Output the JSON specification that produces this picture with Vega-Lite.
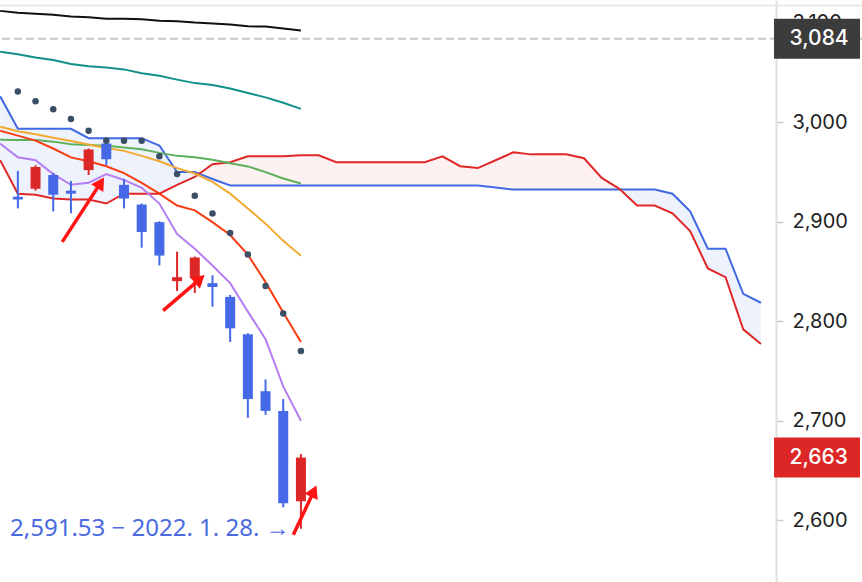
{
  "$schema": "https://vega.github.io/schema/vega-lite/v6.json",
  "width": 862,
  "height": 582,
  "autosize": {"type": "none"},
  "padding": 0,
  "background": "white",
  "config": {"view": {"stroke": null}, "font": "Roboto"},
  "datasets": {
    "candles": [
      {"i":0,"open":2925.2,"high":2950.9,"low":2913.4,"close":2922.3,"sar":3030.9},
      {"i":1,"open":2933.1,"high":2956.8,"low":2931.2,"close":2954.9,"sar":3021.0},
      {"i":2,"open":2947.0,"high":2948.9,"low":2910.4,"close":2927.2,"sar":3013.1},
      {"i":3,"open":2931.2,"high":2941.0,"low":2908.5,"close":2928.2,"sar":3003.3},
      {"i":4,"open":2951.9,"high":2973.6,"low":2947.0,"close":2972.6,"sar":2991.4},
      {"i":5,"open":2978.6,"high":2979.0,"low":2956.8,"close":2962.8,"sar":2981.5},
      {"i":6,"open":2937.1,"high":2943.0,"low":2913.4,"close":2923.3,"sar":2981.5},
      {"i":7,"open":2917.3,"high":2918.3,"low":2873.9,"close":2889.7,"sar":2981.5},
      {"i":8,"open":2899.6,"high":2900.5,"low":2856.1,"close":2866.0,"sar":2965.7},
      {"i":9,"open":2840.3,"high":2869.9,"low":2830.4,"close":2844.3,"sar":2947.9},
      {"i":10,"open":2843.3,"high":2865.0,"low":2828.4,"close":2864.0,"sar":2926.2},
      {"i":11,"open":2838.3,"high":2846.2,"low":2814.6,"close":2834.4,"sar":2908.4},
      {"i":12,"open":2824.5,"high":2826.5,"low":2779.1,"close":2792.9,"sar":2888.7},
      {"i":13,"open":2786.9,"high":2787.9,"low":2703.0,"close":2721.8,"sar":2867.0},
      {"i":14,"open":2729.7,"high":2741.5,"low":2706.0,"close":2709.9,"sar":2835.4},
      {"i":15,"open":2709.9,"high":2721.8,"low":2613.1,"close":2617.1,"sar":2807.7},
      {"i":16,"open":2619.1,"high":2666.5,"low":2591.53,"close":2663.0,"sar":2770.2}
    ],
    "ma": [
      {"i":-1,"black":3111.9,"teal":3070.9,"green":2982.5,"orange":2995.4,"ro":2991.4,"purple":2978.6},
      {"i":0,"black":3109.9,"teal":3068.4,"green":2982.2,"orange":2990.9,"ro":2986.5,"purple":2964.7},
      {"i":1,"black":3108.9,"teal":3065.0,"green":2982.2,"orange":2988.0,"ro":2981.5,"purple":2961.8},
      {"i":2,"black":3108.0,"teal":3062.5,"green":2980.5,"orange":2984.5,"ro":2973.6,"purple":2947.9},
      {"i":3,"black":3106.3,"teal":3058.6,"green":2977.9,"orange":2981.2,"ro":2964.7,"purple":2937.1},
      {"i":4,"black":3105.5,"teal":3056.3,"green":2977.1,"orange":2977.6,"ro":2960.8,"purple":2939.1},
      {"i":5,"black":3104.0,"teal":3055.1,"green":2976.3,"orange":2974.1,"ro":2955.8,"purple":2947.9},
      {"i":6,"black":3104.0,"teal":3053.1,"green":2974.6,"orange":2971.2,"ro":2948.9,"purple":2942.0},
      {"i":7,"black":3103.5,"teal":3049.2,"green":2972.8,"orange":2966.2,"ro":2939.1,"purple":2934.1},
      {"i":8,"black":3102.0,"teal":3046.7,"green":2969.2,"orange":2960.8,"ro":2928.2,"purple":2918.3},
      {"i":9,"black":3101.5,"teal":3042.8,"green":2966.2,"orange":2953.9,"ro":2916.3,"purple":2887.7},
      {"i":10,"black":3100.2,"teal":3039.3,"green":2964.7,"orange":2948.5,"ro":2911.4,"purple":2872.9},
      {"i":11,"black":3099.3,"teal":3037.3,"green":2962.3,"orange":2940.1,"ro":2899.6,"purple":2856.1},
      {"i":12,"black":3098.1,"teal":3033.9,"green":2958.8,"orange":2928.2,"ro":2886.7,"purple":2838.3},
      {"i":13,"black":3096.4,"teal":3029.4,"green":2955.6,"orange":2913.4,"ro":2866.9,"purple":2809.7},
      {"i":14,"black":3096.1,"teal":3025.0,"green":2949.9,"orange":2898.1,"ro":2839.3,"purple":2782.0},
      {"i":15,"black":3094.3,"teal":3019.6,"green":2943.5,"orange":2880.8,"ro":2808.7,"purple":2734.6},
      {"i":16,"black":3092.2,"teal":3013.4,"green":2938.4,"orange":2865.9,"ro":2779.1,"purple":2700.0}
    ],
    "span": [
      {"i":-1,"a":3026.0,"b":2961.8},{"i":0,"a":2993.4,"b":2928.2},{"i":1,"a":2993.4,"b":2927.2},
      {"i":2,"a":2993.4,"b":2923.3},{"i":3,"a":2993.4,"b":2922.3},{"i":4,"a":2984.0,"b":2922.3},
      {"i":5,"a":2984.0,"b":2918.3},{"i":6,"a":2984.0,"b":2928.2},{"i":7,"a":2984.0,"b":2928.2},
      {"i":8,"a":2976.6,"b":2928.2},{"i":9,"a":2949.9,"b":2937.1},{"i":10,"a":2949.9,"b":2945.0},
      {"i":11,"a":2943.0,"b":2957.8},{"i":12,"a":2936.5,"b":2959.8},{"i":13,"a":2936.5,"b":2965.7},
      {"i":14,"a":2936.5,"b":2965.7},{"i":15,"a":2936.5,"b":2965.7},{"i":16,"a":2936.5,"b":2966.7},
      {"i":17,"a":2936.5,"b":2966.7},{"i":18,"a":2936.5,"b":2959.8},{"i":19,"a":2936.5,"b":2959.8},
      {"i":20,"a":2936.5,"b":2959.8},{"i":21,"a":2936.5,"b":2959.8},{"i":22,"a":2936.5,"b":2959.8},
      {"i":23,"a":2936.5,"b":2959.8},{"i":24,"a":2936.5,"b":2965.7},{"i":25,"a":2936.5,"b":2955.8},
      {"i":26,"a":2936.5,"b":2953.9},{"i":27,"a":2934.4,"b":2961.8},{"i":28,"a":2932.4,"b":2969.7},
      {"i":29,"a":2932.4,"b":2967.7},{"i":30,"a":2932.4,"b":2967.7},{"i":31,"a":2932.4,"b":2967.7},
      {"i":32,"a":2932.4,"b":2963.8},{"i":33,"a":2932.4,"b":2944.0},{"i":34,"a":2932.4,"b":2933.1},
      {"i":35,"a":2932.4,"b":2916.3},{"i":36,"a":2932.4,"b":2916.3},{"i":37,"a":2928.2,"b":2908.4},
      {"i":38,"a":2910.4,"b":2890.7},{"i":39,"a":2872.9,"b":2853.1},{"i":40,"a":2872.9,"b":2844.3},
      {"i":41,"a":2827.5,"b":2791.9},{"i":42,"a":2818.6,"b":2777.1}
    ],
    "cloud": [
      {"seg":"s1","lead":"A","i":-1,"a":3026.0,"b":2961.8},{"seg":"s1","lead":"A","i":0,"a":2993.4,"b":2928.2},
      {"seg":"s1","lead":"A","i":1,"a":2993.4,"b":2927.2},{"seg":"s1","lead":"A","i":2,"a":2993.4,"b":2923.3},
      {"seg":"s1","lead":"A","i":3,"a":2993.4,"b":2922.3},{"seg":"s1","lead":"A","i":4,"a":2984.0,"b":2922.3},
      {"seg":"s1","lead":"A","i":5,"a":2984.0,"b":2918.3},{"seg":"s1","lead":"A","i":6,"a":2984.0,"b":2928.2},
      {"seg":"s1","lead":"A","i":7,"a":2984.0,"b":2928.2},{"seg":"s1","lead":"A","i":8,"a":2976.6,"b":2928.2},
      {"seg":"s1","lead":"A","i":9,"a":2949.9,"b":2937.1},{"seg":"s1","lead":"A","i":10,"a":2949.9,"b":2945.0},
      {"seg":"s1","lead":"A","i":10.25,"a":2948.2,"b":2948.2},
      {"seg":"s2","lead":"B","i":10.25,"a":2948.2,"b":2948.2},
      {"seg":"s2","lead":"B","i":11,"a":2943.0,"b":2957.8},{"seg":"s2","lead":"B","i":12,"a":2936.5,"b":2959.8},
      {"seg":"s2","lead":"B","i":13,"a":2936.5,"b":2965.7},{"seg":"s2","lead":"B","i":14,"a":2936.5,"b":2965.7},
      {"seg":"s2","lead":"B","i":15,"a":2936.5,"b":2965.7},{"seg":"s2","lead":"B","i":16,"a":2936.5,"b":2966.7},
      {"seg":"s2","lead":"B","i":17,"a":2936.5,"b":2966.7},{"seg":"s2","lead":"B","i":18,"a":2936.5,"b":2959.8},
      {"seg":"s2","lead":"B","i":19,"a":2936.5,"b":2959.8},{"seg":"s2","lead":"B","i":20,"a":2936.5,"b":2959.8},
      {"seg":"s2","lead":"B","i":21,"a":2936.5,"b":2959.8},{"seg":"s2","lead":"B","i":22,"a":2936.5,"b":2959.8},
      {"seg":"s2","lead":"B","i":23,"a":2936.5,"b":2959.8},{"seg":"s2","lead":"B","i":24,"a":2936.5,"b":2965.7},
      {"seg":"s2","lead":"B","i":25,"a":2936.5,"b":2955.8},{"seg":"s2","lead":"B","i":26,"a":2936.5,"b":2953.9},
      {"seg":"s2","lead":"B","i":27,"a":2934.4,"b":2961.8},{"seg":"s2","lead":"B","i":28,"a":2932.4,"b":2969.7},
      {"seg":"s2","lead":"B","i":29,"a":2932.4,"b":2967.7},{"seg":"s2","lead":"B","i":30,"a":2932.4,"b":2967.7},
      {"seg":"s2","lead":"B","i":31,"a":2932.4,"b":2967.7},{"seg":"s2","lead":"B","i":32,"a":2932.4,"b":2963.8},
      {"seg":"s2","lead":"B","i":33,"a":2932.4,"b":2944.0},{"seg":"s2","lead":"B","i":34,"a":2932.4,"b":2933.1},
      {"seg":"s2","lead":"B","i":34.04,"a":2932.4,"b":2932.4},
      {"seg":"s3","lead":"A","i":34.04,"a":2932.4,"b":2932.4},
      {"seg":"s3","lead":"A","i":35,"a":2932.4,"b":2916.3},{"seg":"s3","lead":"A","i":36,"a":2932.4,"b":2916.3},
      {"seg":"s3","lead":"A","i":37,"a":2928.2,"b":2908.4},{"seg":"s3","lead":"A","i":38,"a":2910.4,"b":2890.7},
      {"seg":"s3","lead":"A","i":39,"a":2872.9,"b":2853.1},{"seg":"s3","lead":"A","i":40,"a":2872.9,"b":2844.3},
      {"seg":"s3","lead":"A","i":41,"a":2827.5,"b":2791.9},{"seg":"s3","lead":"A","i":42,"a":2818.6,"b":2777.1}
    ],
    "arrows": [
      {"id":1,"i":2.51,"v":2879.8,"i2":4.68,"v2":2939.1},
      {"id":2,"i":8.21,"v":2810.7,"i2":10.29,"v2":2842.4},
      {"id":3,"i":15.57,"v":2585.5,"i2":16.73,"v2":2629.2}
    ],
    "notes": [
      {"i":15.36,"v":2591.53,"label":"2,591.53 − 2022. 1. 28. →"}
    ],
    "tags": [
      {"kind":"prev","price":3084,"label":"3,084"},
      {"kind":"close","price":2663,"label":"2,663"}
    ]
  },
  "layer": [
    {
      "data": {"name": "cloud"},
      "mark": {"type": "area", "clip": true, "opacity": 1},
      "encoding": {
        "x": {"field": "i", "type": "quantitative", "scale": {"domain": [-0.7263, 47.43], "nice": false, "zero": false}, "axis": null},
        "y": {"field": "a", "type": "quantitative", "stack": null, "scale": {"domain": [2543.0, 3117.8], "nice": false, "zero": false},
              "axis": {"orient": "right", "offset": -86, "values": [2600, 2700, 2800, 2900, 3000, 3100], "format": ",d",
                       "labelFont": "Inter", "labelFontSize": 20, "labelColor": "#222222", "tickColor": "#cccccc", "tickSize": 7,
                       "tickWidth": 1.5, "domainColor": "#e0e0e0", "domainWidth": 2, "labelPadding": 9, "grid": false,
                       "title": null, "labelBaseline": "middle", "labelAlign": "left", "labelFlush": false, "labelOverlap": false}},
        "y2": {"field": "b"},
        "color": {"field": "lead", "type": "nominal", "scale": {"domain": ["A", "B"], "range": ["#edf2fd", "#fdf1f1"]}, "legend": null},
        "detail": {"field": "seg"}
      }
    },
    {
      "data": {"name": "tags"},
      "transform": [{"filter": "datum.kind == 'prev'"}],
      "mark": {"type": "rule", "color": "#e4e4e4", "strokeWidth": 1.5},
      "encoding": {
        "y": {"datum": 3117.2, "type": "quantitative", "title": null, "scale": {"domain": [2543.0, 3117.8], "nice": false, "zero": false}}
      }
    },
    {
      "data": {"name": "span"},
      "mark": {"type": "line", "clip": true, "color": "#4169e1", "strokeWidth": 2},
      "encoding": {
        "x": {"field": "i", "type": "quantitative", "scale": {"domain": [-0.7263, 47.43], "nice": false, "zero": false}, "axis": null},
        "y": {"field": "a", "type": "quantitative", "title": null, "scale": {"domain": [2543.0, 3117.8], "nice": false, "zero": false}}
      }
    },
    {
      "data": {"name": "span"},
      "mark": {"type": "line", "clip": true, "color": "#e02828", "strokeWidth": 2},
      "encoding": {
        "x": {"field": "i", "type": "quantitative", "scale": {"domain": [-0.7263, 47.43], "nice": false, "zero": false}, "axis": null},
        "y": {"field": "b", "type": "quantitative", "title": null, "scale": {"domain": [2543.0, 3117.8], "nice": false, "zero": false}}
      }
    },
    {
      "data": {"name": "ma"},
      "mark": {"type": "line", "clip": true, "color": "#111111", "strokeWidth": 2},
      "encoding": {
        "x": {"field": "i", "type": "quantitative", "scale": {"domain": [-0.7263, 47.43], "nice": false, "zero": false}, "axis": null},
        "y": {"field": "black", "type": "quantitative", "title": null, "scale": {"domain": [2543.0, 3117.8], "nice": false, "zero": false}}
      }
    },
    {
      "data": {"name": "ma"},
      "mark": {"type": "line", "clip": true, "color": "#109088", "strokeWidth": 2},
      "encoding": {
        "x": {"field": "i", "type": "quantitative", "scale": {"domain": [-0.7263, 47.43], "nice": false, "zero": false}, "axis": null},
        "y": {"field": "teal", "type": "quantitative", "title": null, "scale": {"domain": [2543.0, 3117.8], "nice": false, "zero": false}}
      }
    },
    {
      "data": {"name": "ma"},
      "mark": {"type": "line", "clip": true, "color": "#5cb05c", "strokeWidth": 2},
      "encoding": {
        "x": {"field": "i", "type": "quantitative", "scale": {"domain": [-0.7263, 47.43], "nice": false, "zero": false}, "axis": null},
        "y": {"field": "green", "type": "quantitative", "title": null, "scale": {"domain": [2543.0, 3117.8], "nice": false, "zero": false}}
      }
    },
    {
      "data": {"name": "ma"},
      "mark": {"type": "line", "clip": true, "color": "#f0aa30", "strokeWidth": 2},
      "encoding": {
        "x": {"field": "i", "type": "quantitative", "scale": {"domain": [-0.7263, 47.43], "nice": false, "zero": false}, "axis": null},
        "y": {"field": "orange", "type": "quantitative", "title": null, "scale": {"domain": [2543.0, 3117.8], "nice": false, "zero": false}}
      }
    },
    {
      "data": {"name": "ma"},
      "mark": {"type": "line", "clip": true, "color": "#fa3c12", "strokeWidth": 2},
      "encoding": {
        "x": {"field": "i", "type": "quantitative", "scale": {"domain": [-0.7263, 47.43], "nice": false, "zero": false}, "axis": null},
        "y": {"field": "ro", "type": "quantitative", "title": null, "scale": {"domain": [2543.0, 3117.8], "nice": false, "zero": false}}
      }
    },
    {
      "data": {"name": "ma"},
      "mark": {"type": "line", "clip": true, "color": "#b57ef2", "strokeWidth": 2},
      "encoding": {
        "x": {"field": "i", "type": "quantitative", "scale": {"domain": [-0.7263, 47.43], "nice": false, "zero": false}, "axis": null},
        "y": {"field": "purple", "type": "quantitative", "title": null, "scale": {"domain": [2543.0, 3117.8], "nice": false, "zero": false}}
      }
    },
    {
      "data": {"name": "tags"},
      "transform": [{"filter": "datum.kind == 'prev'"}],
      "mark": {"type": "rule", "color": "#c8c8c8", "strokeWidth": 2, "strokeDash": [8, 4]},
      "encoding": {
        "y": {"field": "price", "type": "quantitative", "title": null, "scale": {"domain": [2543.0, 3117.8], "nice": false, "zero": false}}
      }
    },
    {
      "data": {"name": "candles"},
      "mark": {"type": "rule", "strokeWidth": 2},
      "encoding": {
        "x": {"field": "i", "type": "quantitative", "scale": {"domain": [-0.7263, 47.43], "nice": false, "zero": false}, "axis": null},
        "y": {"field": "low", "type": "quantitative", "title": null, "scale": {"domain": [2543.0, 3117.8], "nice": false, "zero": false}},
        "y2": {"field": "high"},
        "color": {"condition": {"test": "datum.close >= datum.open", "value": "#dd2727"}, "value": "#4468e6"}
      }
    },
    {
      "data": {"name": "candles"},
      "mark": {"type": "bar", "size": 10},
      "encoding": {
        "x": {"field": "i", "type": "quantitative", "scale": {"domain": [-0.7263, 47.43], "nice": false, "zero": false}, "axis": null},
        "y": {"field": "open", "type": "quantitative", "title": null, "scale": {"domain": [2543.0, 3117.8], "nice": false, "zero": false}},
        "y2": {"field": "close"},
        "color": {"condition": {"test": "datum.close >= datum.open", "value": "#dd2727"}, "value": "#4468e6"}
      }
    },
    {
      "data": {"name": "candles"},
      "mark": {"type": "point", "filled": true, "size": 42, "opacity": 1, "color": "#3a4e66"},
      "encoding": {
        "x": {"field": "i", "type": "quantitative", "scale": {"domain": [-0.7263, 47.43], "nice": false, "zero": false}, "axis": null},
        "y": {"field": "sar", "type": "quantitative", "title": null, "scale": {"domain": [2543.0, 3117.8], "nice": false, "zero": false}}
      }
    },
    {
      "data": {"name": "arrows"},
      "mark": {"type": "rule", "color": "#ff1414", "strokeWidth": 3.5},
      "encoding": {
        "x": {"field": "i", "type": "quantitative", "scale": {"domain": [-0.7263, 47.43], "nice": false, "zero": false}, "axis": null},
        "x2": {"field": "i2"},
        "y": {"field": "v", "type": "quantitative", "title": null, "scale": {"domain": [2543.0, 3117.8], "nice": false, "zero": false}},
        "y2": {"field": "v2"}
      }
    },
    {
      "data": {"name": "arrows"},
      "transform": [{"filter": "datum.id == 1"}],
      "mark": {"type": "point", "shape": "triangle-up", "filled": true, "size": 210, "opacity": 1, "color": "#ff1414", "angle": 33},
      "encoding": {
        "x": {"field": "i2", "type": "quantitative", "scale": {"domain": [-0.7263, 47.43], "nice": false, "zero": false}, "axis": null},
        "y": {"field": "v2", "type": "quantitative", "title": null, "scale": {"domain": [2543.0, 3117.8], "nice": false, "zero": false}}
      }
    },
    {
      "data": {"name": "arrows"},
      "transform": [{"filter": "datum.id == 2"}],
      "mark": {"type": "point", "shape": "triangle-up", "filled": true, "size": 210, "opacity": 1, "color": "#ff1414", "angle": 49},
      "encoding": {
        "x": {"field": "i2", "type": "quantitative", "scale": {"domain": [-0.7263, 47.43], "nice": false, "zero": false}, "axis": null},
        "y": {"field": "v2", "type": "quantitative", "title": null, "scale": {"domain": [2543.0, 3117.8], "nice": false, "zero": false}}
      }
    },
    {
      "data": {"name": "arrows"},
      "transform": [{"filter": "datum.id == 3"}],
      "mark": {"type": "point", "shape": "triangle-up", "filled": true, "size": 210, "opacity": 1, "color": "#ff1414", "angle": 25},
      "encoding": {
        "x": {"field": "i2", "type": "quantitative", "scale": {"domain": [-0.7263, 47.43], "nice": false, "zero": false}, "axis": null},
        "y": {"field": "v2", "type": "quantitative", "title": null, "scale": {"domain": [2543.0, 3117.8], "nice": false, "zero": false}}
      }
    },
    {
      "data": {"name": "notes"},
      "mark": {"type": "text", "align": "right", "baseline": "middle", "font": "Noto Sans", "fontSize": 24, "color": "#4a6ae2"},
      "encoding": {
        "x": {"field": "i", "type": "quantitative", "scale": {"domain": [-0.7263, 47.43], "nice": false, "zero": false}, "axis": null},
        "y": {"field": "v", "type": "quantitative", "title": null, "scale": {"domain": [2543.0, 3117.8], "nice": false, "zero": false}},
        "text": {"field": "label"}
      }
    },
    {
      "data": {"name": "tags"},
      "mark": {"type": "bar", "orient": "horizontal", "size": 40},
      "encoding": {
        "x": {"datum": 42.74, "type": "quantitative", "scale": {"domain": [-0.7263, 47.43], "nice": false, "zero": false}, "axis": null},
        "x2": {"datum": 47.6},
        "y": {"field": "price", "type": "quantitative", "title": null, "scale": {"domain": [2543.0, 3117.8], "nice": false, "zero": false}},
        "color": {"condition": {"test": "datum.kind == 'close'", "value": "#dd2727"}, "value": "#3c3c3c"}
      }
    },
    {
      "data": {"name": "tags"},
      "mark": {"type": "text", "align": "left", "baseline": "middle", "font": "Inter", "fontSize": 21, "fontWeight": 500, "color": "white"},
      "encoding": {
        "x": {"datum": 43.62, "type": "quantitative", "scale": {"domain": [-0.7263, 47.43], "nice": false, "zero": false}, "axis": null},
        "y": {"field": "price", "type": "quantitative", "title": null, "scale": {"domain": [2543.0, 3117.8], "nice": false, "zero": false}},
        "text": {"field": "label"}
      }
    }
  ]
}
